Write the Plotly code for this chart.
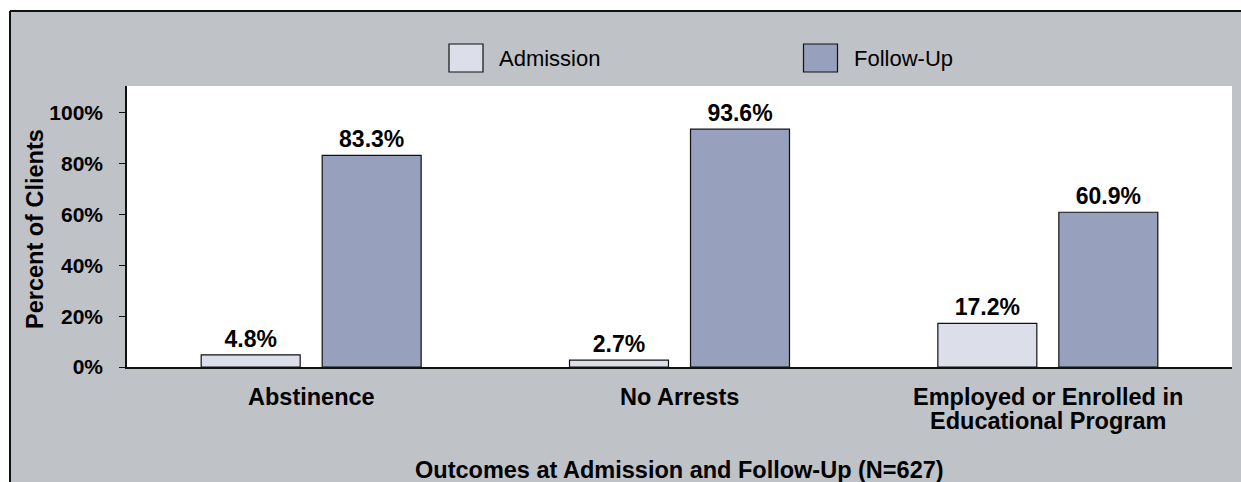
import plotly.graph_objects as go

# Outcome categories and percentages of clients
categories = ["Abstinence", "No Arrests", "Employed or Enrolled in Educational Program"]
category_lines = [["Abstinence"], ["No Arrests"], ["Employed or Enrolled in", "Educational Program"]]
admission = [4.8, 2.7, 17.2]
follow_up = [83.3, 93.6, 60.9]
series_names = ["Admission", "Follow-Up"]
y_ticks = [0, 20, 40, 60, 80, 100]
y_tick_labels = ["0%", "20%", "40%", "60%", "80%", "100%"]
x_title = "Outcomes at Admission and Follow-Up (N=627)"
y_title = "Percent of Clients"

W, H = 1241, 482
L, R, T, B = 127, 9, 86, 115
PW, PH = W - L - R, H - T - B

PANEL = "#bfc2c7"
ADM_COLOR = "#dcdfe9"
FU_COLOR = "#97a0bc"
EDGE = "#111111"
FONT = "Liberation Sans, Arial, sans-serif"


def px(x):
    return (x - L) / PW


def py(y):
    return (T + PH - y) / PH


fig = go.Figure()
for name, vals, color in [(series_names[0], admission, ADM_COLOR),
                          (series_names[1], follow_up, FU_COLOR)]:
    fig.add_trace(go.Bar(
        name=name, x=categories, y=vals,
        marker=dict(color=color, line=dict(color=EDGE, width=1.2)),
        texttemplate="<b>%{y:.1f}%</b>", textposition="outside",
        textfont=dict(family=FONT, size=23, color="#000000"),
        cliponaxis=False, showlegend=False,
    ))

shapes = [
    # white margin strips around the grey panel
    dict(type="rect", xref="paper", yref="paper", x0=px(0), x1=px(W), y0=py(0), y1=py(11),
         fillcolor="white", line_width=0, layer="below"),
    dict(type="rect", xref="paper", yref="paper", x0=px(0), x1=px(10), y0=py(0), y1=py(H),
         fillcolor="white", line_width=0, layer="below"),
    # panel border (top and left)
    dict(type="line", xref="paper", yref="paper", x0=px(10), x1=px(W), y0=py(11), y1=py(11),
         line=dict(color=EDGE, width=2)),
    dict(type="line", xref="paper", yref="paper", x0=px(10), x1=px(10), y0=py(11), y1=py(H),
         line=dict(color=EDGE, width=2)),
]

annotations = [
    dict(text=f"<b>{x_title}</b>", xref="paper", yref="paper",
         x=0.5, y=py(470), showarrow=False, xanchor="center", yanchor="middle",
         font=dict(family=FONT, size=23.5, color="#000000")),
    dict(text=f"<b>{y_title}</b>", xref="paper", yref="paper",
         x=px(35), y=py(229), showarrow=False, textangle=-90, xanchor="center", yanchor="middle",
         font=dict(family=FONT, size=23.5, color="#000000")),
]

# category labels, one annotation per text line for tight line spacing
line_y = [397, 421.5]
for cat, lines in zip(categories, category_lines):
    for i, line in enumerate(lines):
        annotations.append(dict(text=f"<b>{line}</b>", xref="x", yref="paper",
                                x=cat, y=py(line_y[i]), showarrow=False,
                                xanchor="center", yanchor="middle",
                                font=dict(family=FONT, size=23.5, color="#000000")))

# legend drawn as boxes with labels
legend_items = [(series_names[0], ADM_COLOR, 466), (series_names[1], FU_COLOR, 820.5)]
for name, color, cx in legend_items:
    shapes.append(dict(type="rect", xref="paper", yref="paper",
                       x0=px(cx - 17), x1=px(cx + 17), y0=py(72), y1=py(44),
                       fillcolor=color, line=dict(color=EDGE, width=1.2)))
    annotations.append(dict(text=name, xref="paper", yref="paper", x=px(cx + 31), y=py(58),
                            showarrow=False, xanchor="left", yanchor="middle",
                            font=dict(family=FONT, size=22, color="#000000")))

fig.update_layout(
    width=W, height=H,
    margin=dict(l=L, r=R, t=T, b=B, pad=0),
    paper_bgcolor=PANEL, plot_bgcolor="white",
    barmode="group", bargap=0.343, bargroupgap=0.182,
    shapes=shapes, annotations=annotations,
    xaxis=dict(showgrid=False, showline=True, linecolor=EDGE, linewidth=1.5,
               ticks="", showticklabels=False),
    yaxis=dict(range=[0, 110.6], showgrid=False, showline=True, linecolor=EDGE, linewidth=1.5,
               ticks="outside", ticklen=6, tickcolor=EDGE, tickwidth=1.2,
               tickvals=y_ticks, ticktext=[f"<b>{t}</b>" for t in y_tick_labels],
               ticklabelstandoff=12,
               tickfont=dict(family=FONT, size=21, color="#000000"), zeroline=False),
    font=dict(family=FONT),
)

fig.write_html("out.html")
